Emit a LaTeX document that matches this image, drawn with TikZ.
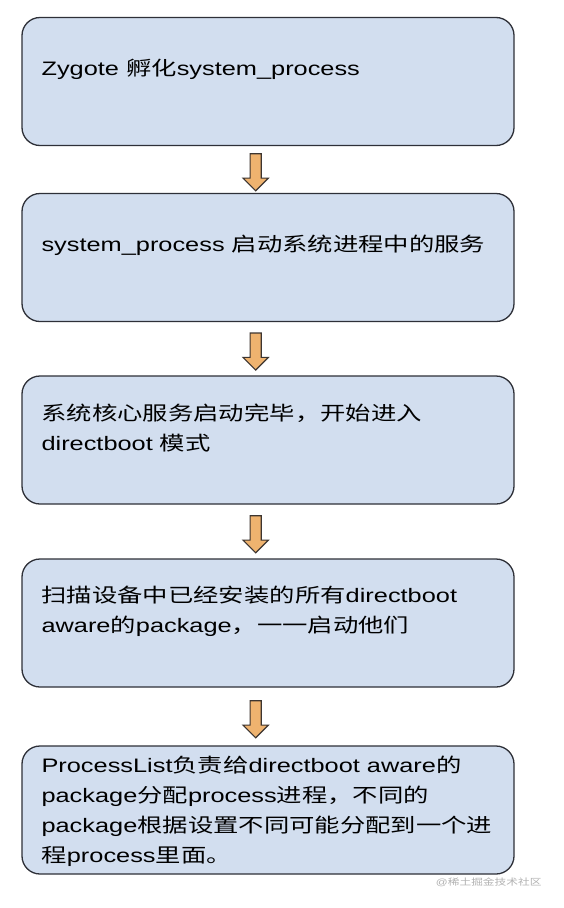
\documentclass[tikz,border=0pt]{standalone}
\usepackage{fontspec}
\usetikzlibrary{shapes.arrows,calc}
\setmainfont{Liberation Sans}[FakeStretch=1.3]
\newfontfamily\cjk{Noto Sans CJK SC}[FakeStretch=1.3]
% Chinese characters are set in the CJK font
\XeTeXinterchartokenstate=1
\newXeTeXintercharclass\cjkclass
\count255="3000
\loop\XeTeXcharclass\count255=\cjkclass
  \advance\count255 by 1
  \ifnum\count255<"3040 \repeat
\count255="4E00
\loop\XeTeXcharclass\count255=\cjkclass
  \advance\count255 by 1
  \ifnum\count255<"A000 \repeat
\count255="FF00
\loop\XeTeXcharclass\count255=\cjkclass
  \advance\count255 by 1
  \ifnum\count255<"FFF0 \repeat
\XeTeXinterchartoks 0 \cjkclass = {\begingroup\cjk}
\XeTeXinterchartoks 4095 \cjkclass = {\begingroup\cjk}
\XeTeXinterchartoks \cjkclass 0 = {\endgroup}
\XeTeXinterchartoks \cjkclass 4095 = {\endgroup}
\definecolor{boxfill}{HTML}{D2DEEF}
\definecolor{boxline}{HTML}{2E3038}
\definecolor{arrowfill}{HTML}{EFB36F}
\definecolor{arrowline}{HTML}{3D3530}
\tikzset{
  stepbox/.style={draw=boxline, line width=1.3pt, fill=boxfill,
    rounded corners=18pt, minimum width=492pt, minimum height=128pt},
  % base of the last line sits at the given point
  steptext/.style={anchor=base west, align=left, inner sep=0pt,
    font=\fontsize{19.5}{30}\selectfont},
  flow/.style={single arrow, draw=arrowline, line width=1.1pt, fill=arrowfill,
    minimum height=37pt, minimum width=20.5pt, inner sep=5pt,
    single arrow tip angle=90, rotate=-90},
}
\begin{document}
\begin{tikzpicture}[x=1pt, y=-1pt]
  \useasboundingbox[fill=white] (0,0) rectangle (564,908);
  % the five steps
  \node[stepbox] (b1) at (268,81.5) {};
  \node[stepbox] (b2) at (268,257.5) {};
  \node[stepbox] (b3) at (268,440) {};
  \node[stepbox] (b4) at (268,623) {};
  \node[stepbox] (b5) at (268,810) {};
  \node[steptext] (t1) at ($(b1.north west)+(20,58.5)$)
    {Zygote 孵化system\_process};
  \node[steptext] (t2) at ($(b2.north west)+(20,59)$)
    {system\_process 启动系统进程中的服务};
  \node[steptext] (t3) at ($(b3.north west)+(20,75)$)
    {系统核心服务启动完毕，开始进入\\directboot 模式};
  \node[steptext] (t4) at ($(b4.north west)+(20,74)$)
    {扫描设备中已经安装的所有directboot\\aware的package，一一启动他们};
  \node[steptext] (t5) at ($(b5.north west)+(20,117)$)
    {ProcessList负责给directboot aware的\\package分配process进程，不同的\\package根据设置不同可能分配到一个进\\程process里面。};
  % arrows between the steps
  \node[flow] (a1) at ($(b1.south)!0.5!(b2.north)+(-12.3,0)$) {};
  \node[flow] (a2) at ($(b2.south)!0.5!(b3.north)+(-12.3,0)$) {};
  \node[flow] (a3) at ($(b3.south)!0.5!(b4.north)+(-12.3,0)$) {};
  \node[flow] (a4) at ($(b4.south)!0.5!(b5.north)+(-12.3,0)$) {};
  \node[anchor=east, text=black!30, font=\fontsize{9}{10}\selectfont] (wm)
    at (545,882) {@稀土掘金技术社区};
\end{tikzpicture}
\end{document}
